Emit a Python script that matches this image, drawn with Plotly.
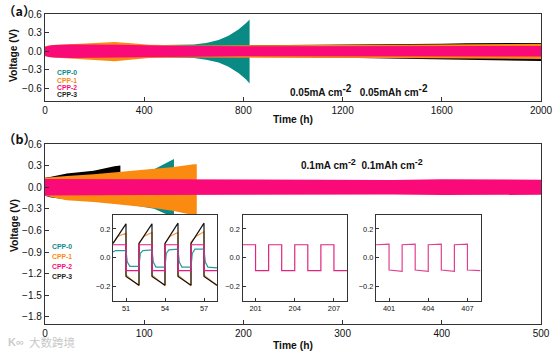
import plotly.graph_objects as go

W, H = 554, 353
TEAL, ORANGE, PINK, BLACK = "#0a8a85", "#fb8a10", "#fa0a78", "#000000"
FRAME = "#333333"
SERIES = ["CPP-0", "CPP-1", "CPP-2", "CPP-3"]
SERIES_COLORS = [TEAL, ORANGE, PINK, "#222222"]

# Panel (a) envelopes
a_t_cpp3 = [0, 400, 800, 1000, 1200, 1400, 1600, 1700, 1800, 2000]
a_up_cpp3 = [0.07, 0.08, 0.09, 0.095, 0.105, 0.115, 0.12, 0.13, 0.13, 0.135]
a_lo_cpp3 = [-0.07, -0.08, -0.09, -0.095, -0.105, -0.12, -0.13, -0.14, -0.14, -0.155]
a_t_cpp0 = [0, 300, 600, 650, 700, 740, 780, 810, 825]
a_up_cpp0 = [0.07, 0.09, 0.11, 0.135, 0.18, 0.25, 0.35, 0.45, 0.51]
a_lo_cpp0 = [-0.07, -0.09, -0.11, -0.135, -0.18, -0.25, -0.35, -0.45, -0.52]
a_t_cpp1 = [0, 30, 100, 200, 280, 350, 420, 600, 1000, 1400, 2000]
a_up_cpp1 = [0.08, 0.10, 0.115, 0.13, 0.15, 0.13, 0.105, 0.095, 0.095, 0.105, 0.12]
a_lo_cpp1 = [-0.08, -0.10, -0.12, -0.14, -0.16, -0.135, -0.11, -0.10, -0.10, -0.11, -0.125]
a_t_cpp2 = [0, 15, 40, 100, 300, 500, 800, 1200, 2000]
a_up_cpp2 = [0.07, 0.09, 0.10, 0.11, 0.105, 0.09, 0.08, 0.08, 0.085]
a_lo_cpp2 = [-0.07, -0.09, -0.10, -0.11, -0.105, -0.09, -0.08, -0.08, -0.085]

# Panel (b) envelopes
b_t_cpp3 = [0, 5, 22, 49, 70, 76]
b_up_cpp3 = [0.13, 0.14, 0.19, 0.23, 0.29, 0.30]
b_lo_cpp3 = [-0.12, -0.14, -0.17, -0.19, -0.20, -0.20]
b_t_cpp0 = [0, 60, 110, 128, 130]
b_up_cpp0 = [0.1, 0.16, 0.25, 0.385, 0.39]
b_lo_cpp0 = [-0.1, -0.18, -0.30, -0.41, -0.42]
b_t_cpp1 = [0, 10, 22, 49, 75, 109, 130, 150, 153]
b_up_cpp1 = [0.13, 0.145, 0.157, 0.18, 0.214, 0.25, 0.28, 0.32, 0.32]
b_lo_cpp1 = [-0.12, -0.15, -0.18, -0.205, -0.24, -0.29, -0.33, -0.39, -0.39]
b_t_cpp2 = [0, 100, 200, 300, 350, 400, 500]
b_up_cpp2 = [0.115, 0.11, 0.10, 0.10, 0.10, 0.11, 0.105]
b_lo_cpp2 = [-0.115, -0.11, -0.10, -0.10, -0.10, -0.11, -0.105]

# Inset time series
i1_t_cpp3 = [50, 51, 51, 52, 52, 53, 53, 54, 54, 55, 55, 56, 56, 57, 57, 58]
i1_v_cpp3 = [0.10, 0.235, -0.13, -0.19, 0.10, 0.235, -0.13, -0.19, 0.10, 0.24, -0.13, -0.19, 0.10, 0.24, -0.13, -0.19]
i1_t_cpp1 = [50, 50.4, 51, 51, 52, 52, 52.4, 53, 53, 54, 54, 54.4, 55, 55, 56, 56, 56.4, 57, 57, 58]
i1_v_cpp1 = [0.10, 0.15, 0.17, -0.12, -0.195, 0.10, 0.15, 0.175, -0.12, -0.195, 0.10, 0.15, 0.175, -0.12, -0.195, 0.11, 0.15, 0.18, -0.12, -0.195]
i1_t_cpp0 = [50, 50.2, 51, 51.1, 51.3, 52, 52.1, 52.3, 53, 53.1, 53.3, 54, 54.1, 54.3, 55, 55.1, 55.3, 56, 56.1, 56.3, 57, 57.1, 57.3, 58]
i1_v_cpp0 = [0.04, 0.05, 0.05, -0.03, -0.06, -0.06, 0.03, 0.05, 0.055, -0.03, -0.065, -0.065, 0.03, 0.055, 0.06, -0.03, -0.065, -0.065, 0.03, 0.06, 0.06, -0.03, -0.065, -0.07]
i1_t_cpp2 = [50, 51, 51, 52, 52, 53, 53, 54, 54, 55, 55, 56, 56, 57, 57, 58]
i1_v_cpp2 = [0.09, 0.09, -0.09, -0.09, 0.09, 0.09, -0.09, -0.09, 0.09, 0.09, -0.09, -0.09, 0.09, 0.09, -0.09, -0.09]
i2_t_cpp2 = [200, 201, 201, 202, 202, 203, 203, 204, 204, 205, 205, 206, 206, 207, 207, 208]
i2_v_cpp2 = [0.09, 0.09, -0.09, -0.09, 0.09, 0.09, -0.09, -0.09, 0.09, 0.09, -0.09, -0.09, 0.09, 0.09, -0.09, -0.09]
i3_t_cpp2 = [400, 401, 401, 402, 402, 403, 403, 404, 404, 405, 405, 406, 406, 407, 407, 408]
i3_v_cpp2 = [0.09, 0.095, -0.085, -0.095, 0.09, 0.095, -0.085, -0.095, 0.09, 0.095, -0.085, -0.095, 0.09, 0.095, -0.085, -0.09]

# Ticks
a_xticks = [0, 400, 800, 1200, 1600, 2000]
a_yticks = [-0.6, -0.3, 0.0, 0.3, 0.6]
b_xticks = [0, 100, 200, 300, 400, 500]
b_yticks = [-1.8, -1.5, -1.2, -0.9, -0.6, -0.3, 0.0, 0.3, 0.6]
inset_yticks = [-0.2, 0.0, 0.2]
i1_xticks = [51, 54, 57]
i2_xticks = [201, 204, 207]
i3_xticks = [401, 404, 407]

FONT = "Liberation Sans"
fig = go.Figure()


def envelope(t, up, lo, color, ax):
    fig.add_trace(go.Scatter(x=t + t[::-1], y=up + lo[::-1], fill="toself", fillcolor=color,
                             mode="lines", line=dict(width=0, color=color), showlegend=False,
                             xaxis="x" + ax, yaxis="y" + ax, hoverinfo="skip"))


def line(t, v, color, ax, width=1.2):
    fig.add_trace(go.Scatter(x=t, y=v, mode="lines", line=dict(color=color, width=width),
                             showlegend=False, xaxis="x" + ax, yaxis="y" + ax))


for t, u, l, c in [(a_t_cpp3, a_up_cpp3, a_lo_cpp3, BLACK), (a_t_cpp0, a_up_cpp0, a_lo_cpp0, TEAL),
                   (a_t_cpp1, a_up_cpp1, a_lo_cpp1, ORANGE), (a_t_cpp2, a_up_cpp2, a_lo_cpp2, PINK)]:
    envelope(t, u, l, c, "")
for t, u, l, c in [(b_t_cpp3, b_up_cpp3, b_lo_cpp3, BLACK), (b_t_cpp0, b_up_cpp0, b_lo_cpp0, TEAL),
                   (b_t_cpp1, b_up_cpp1, b_lo_cpp1, ORANGE), (b_t_cpp2, b_up_cpp2, b_lo_cpp2, PINK)]:
    envelope(t, u, l, c, "2")

line(i1_t_cpp1, i1_v_cpp1, "#f59a45", "3")
line(i1_t_cpp3, i1_v_cpp3, "#111111", "3")
line(i1_t_cpp0, i1_v_cpp0, "#2a9a98", "3")
line(i1_t_cpp2, i1_v_cpp2, "#e8188a", "3")
line(i2_t_cpp2, i2_v_cpp2, "#e0257f", "4")
line(i3_t_cpp2, i3_v_cpp2, "#e0408f", "5")


def px(x0, x1):
    return [x0 / W, x1 / W]


def py(top, bottom):
    return [1 - bottom / H, 1 - top / H]


def axis(dom, rng, ticks, anchor, size, width, fmt=None, ticklen=4):
    d = dict(domain=dom, range=rng, tickvals=ticks, anchor=anchor, mirror=True, showline=True,
             linecolor=FRAME, linewidth=width, ticks="inside", ticklen=ticklen, tickwidth=1, tickcolor=FRAME,
             showgrid=False, zeroline=False, tickfont=dict(family=FONT, size=size, color="#111111"))
    if fmt:
        d["tickformat"] = fmt
    return d


layout = dict(
    width=W, height=H, margin=dict(l=0, r=0, t=0, b=0, pad=0, autoexpand=False), autosize=False,
    paper_bgcolor="white", plot_bgcolor="white", showlegend=False,
    xaxis=axis(px(45, 541), [0, 2000], a_xticks, "y", 10, 1.4),
    yaxis=axis(py(14, 101), [-0.8, 0.6], a_yticks, "x", 10, 1.4, ".1f"),
    xaxis2=axis(px(45, 541), [0, 500], b_xticks, "y2", 10, 1.4),
    yaxis2=axis(py(144, 324), [-1.9, 0.6], b_yticks, "x2", 10, 1.4, ".1f"),
    xaxis3=axis(px(113, 217), [50, 58], i1_xticks, "y3", 7.4, 1.4, None, 3),
    yaxis3=axis(py(214.5, 301), [-0.3, 0.3], inset_yticks, "x3", 7.4, 1.4, ".1f", 3),
    xaxis4=axis(px(242.5, 347), [200, 208], i2_xticks, "y4", 7.4, 1.4, None, 3),
    yaxis4=axis(py(214.5, 301), [-0.3, 0.3], inset_yticks, "x4", 7.4, 1.4, ".1f", 3),
    xaxis5=axis(px(376, 480.5), [400, 408], i3_xticks, "y5", 7.4, 1.4, None, 3),
    yaxis5=axis(py(214.5, 301), [-0.3, 0.3], inset_yticks, "x5", 7.4, 1.4, ".1f", 3),
)


def note(text, x, y, size=10, color="#111111", angle=0, family=FONT, bold=True):
    fig.add_annotation(text=f"<b>{text}</b>" if bold else text, x=x / W, y=1 - y / H, xref="paper", yref="paper",
                       xanchor="center", yanchor="middle", showarrow=False, textangle=angle,
                       font=dict(family=family, size=size, color=color))


def sup(text, size):
    return f'<sup><span style="font-size:{size}px">{text}</span></sup>'


fig.update_layout(**layout)
for ypos, name, color in zip([72.5, 80.5, 87.5, 95], SERIES, SERIES_COLORS):
    note(name, 66.5, ypos, 6.8, color)
for ypos, name, color in zip([246, 256, 266, 276], SERIES, SERIES_COLORS):
    note(name, 62.5, ypos, 6.8, color)
note("Voltage (V)", 14, 55, 10.3, angle=-90)
note("Voltage (V)", 14, 225, 10.3, angle=-90)
note("Time (h)", 292.5, 119, 10.3)
note("Time (h)", 293, 345, 10.3)
note("（a）", 19, 10, 12.5, family="Noto Sans CJK SC")
note("（b）", 19, 138, 12.5, family="Noto Sans CJK SC")
note(f"0.05mA cm{sup('-2', 10)}\u00a0\u00a0\u00a00.05mAh cm{sup('-2', 10)}", 359, 90, 10)
note(f"0.1mA cm{sup('-2', 9)}\u00a0\u00a00.1mAh cm{sup('-2', 9)}", 362, 164, 10)
note("大数跨境", 52, 341.5, 11.5, color="#c8c8c8", family="Noto Sans CJK SC", bold=False)
note("K∞", 16, 341.5, 11, color="#cccccc")

fig.write_html("out.html", config={"displayModeBar": False}, post_script="document.body.style.margin='0';")
